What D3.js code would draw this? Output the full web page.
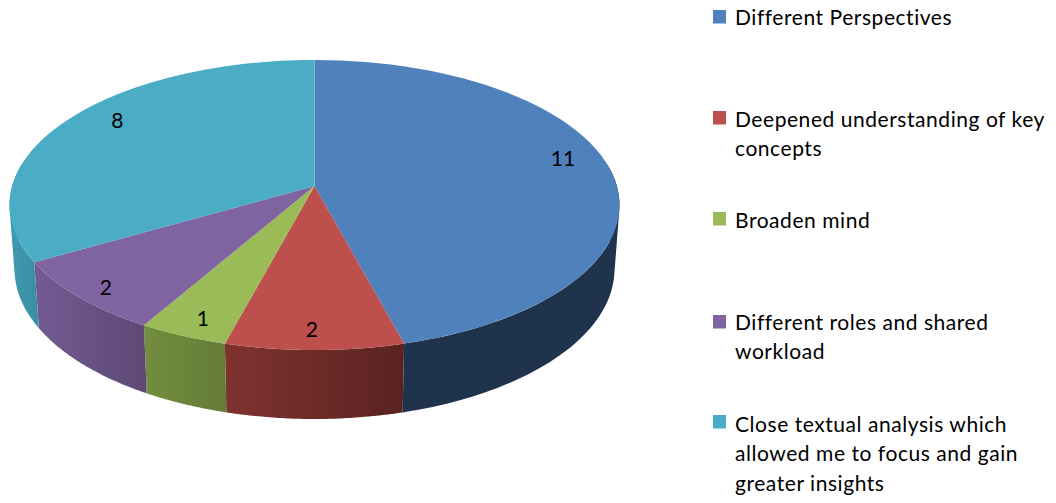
<!DOCTYPE html>
<html><head><meta charset="utf-8">
<script src="https://cdnjs.cloudflare.com/ajax/libs/d3/7.8.5/d3.min.js"></script>
<style>html,body{margin:0;padding:0;background:#fff}svg{display:block}text{font-family:Lato,"Open Sans",sans-serif;fill:#000}</style>
</head><body><svg id="c" width="1056" height="503"></svg>
<script>
const categories = ["Different Perspectives","Deepened understanding of key concepts","Broaden mind","Different roles and shared workload","Close textual analysis which allowed me to focus and gain greater insights"];
const values = [11,2,1,2,8];
const legendLines = [["Different Perspectives"],["Deepened understanding of key","concepts"],["Broaden mind"],["Different roles and shared","workload"],["Close textual analysis which","allowed me to focus and gain","greater insights"]];
const topColors = ["#4f81bd","#bd4f4c","#9bbb59","#8063a1","#4bacc6"];
const sideLeft = ["#1f334d","#7f3331","#728d3e","#725a91","#3f98ae"];
const sideRight = ["#1f334d","#5a2320","#647c37","#5e4976","#3a8ea3"];
const legendSwatchY = [10,111,212,315,415];
const legendBaseY = [25,127,228,330,432];
const labelRadius = [0.865,0.89,0.89,0.908,0.847];
const labelAngleShift = [-5.5,0.5,-0.8,-1,5];

const svg = d3.select("#c");
const k = 0.131;
const topE = {cx:314.5, cy:205, rx:305, ry:145};
const botE = {cx:314.5, cy:269, rx:300, ry:150};
const project = (a, r, e) => {
  const u = r*Math.sin(a), v = r*Math.cos(a), w = 1 + k*v;
  return [e.cx + e.rx*u*Math.sqrt(1-k*k)/w, e.cy - e.ry*(v+k)/w];
};
const arcs = d3.pie().sort(null).value(d=>d)(values);
const samples = (a0,a1,n=60) => d3.range(0,n+1).map(i => a0 + (a1-a0)*i/n);
const line = d3.line();
const defs = svg.append("defs");

// side wall: one path of like-wound quads, so the fold at the silhouette stays filled
const lim0 = Math.PI*0.45, lim1 = Math.PI*1.55;
arcs.forEach((d,i) => {
  const a0 = Math.max(d.startAngle, lim0), a1 = Math.min(d.endAngle, lim1);
  if (a1 <= a0) return;
  const s = samples(a0,a1);
  const T = s.map(a=>project(a,1,topE)), B = s.map(a=>project(a,1,botE));
  const xs = d3.extent(B, p=>p[0]);
  const g = defs.append("linearGradient").attr("id","g"+i).attr("gradientUnits","userSpaceOnUse")
    .attr("x1",xs[0]).attr("x2",xs[1]).attr("y1",0).attr("y2",0);
  g.append("stop").attr("offset",0).attr("stop-color",sideLeft[i]);
  g.append("stop").attr("offset",1).attr("stop-color",sideRight[i]);
  let path = "";
  for (let j=0;j<s.length-1;j++){
    let q = [T[j],T[j+1],B[j+1],B[j]];
    if (d3.polygonArea(q) < 0) q = q.reverse();
    path += line(q)+"Z";
  }
  svg.append("path").attr("d",path).attr("fill",`url(#g${i})`);
});
// top face
arcs.forEach((d,i) => {
  const pts = [project(0,0,topE)].concat(samples(d.startAngle,d.endAngle).map(a=>project(a,1,topE)));
  svg.append("path").attr("d",line(pts)+"Z").attr("fill",topColors[i]);
});
// value labels
arcs.forEach((d,i) => {
  const mid = (d.startAngle+d.endAngle)/2 + labelAngleShift[i]*Math.PI/180;
  const p = project(mid, labelRadius[i], topE);
  svg.append("text").attr("x",p[0]).attr("y",p[1]+7.5).attr("text-anchor","middle")
    .attr("font-size",21).text(d.data);
});
// legend
categories.forEach((c,i) => {
  svg.append("rect").attr("x",713).attr("y",legendSwatchY[i]).attr("width",13).attr("height",13.5).attr("fill",topColors[i]);
  legendLines[i].forEach((t,j) => {
    svg.append("text").attr("x",735).attr("y",legendBaseY[i]+j*29.3)
      .attr("font-size",21).attr("letter-spacing",0.55).text(t);
  });
});
</script></body></html>
